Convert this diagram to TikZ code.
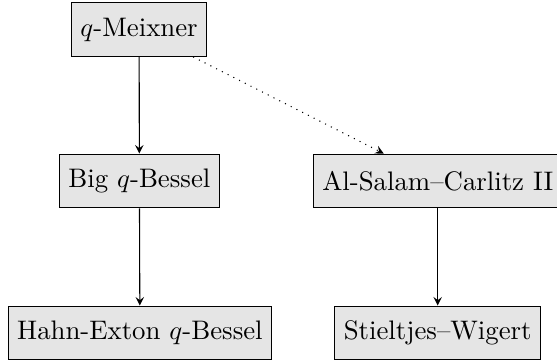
\documentclass[tikz,border=0pt]{standalone}
\usetikzlibrary{arrows}
\begin{document}
\begin{tikzpicture}[x=1pt,y=1pt,
  famnode/.style={draw=black, fill=gray!20, line width=0.45pt, minimum height=20pt, inner sep=3.33pt},
  conn/.style={-stealth, line width=0.4pt},
  limconn/.style={-stealth, dotted, line width=0.4pt}]
\useasboundingbox (0,0) rectangle (207.8,-134.7);
\node[famnode] (M) at (51.9,-11) {$q$-Meixner};
\node[famnode] (B) at (52,-67.5) {Big $q$-Bessel};
\node[famnode] (A) at (163.3,-67.5) {Al-Salam--Carlitz II};
\node[famnode] (H) at (52.2,-124.2) {Hahn-Exton $q$-Bessel};
\node[famnode] (S) at (163.3,-124.2) {Stieltjes--Wigert};
\draw[conn] (M) -- (B);
\draw[conn] (B) -- (H);
\draw[conn] (A) -- (S);
\draw[limconn] (M) -- (A);
\end{tikzpicture}
\end{document}
